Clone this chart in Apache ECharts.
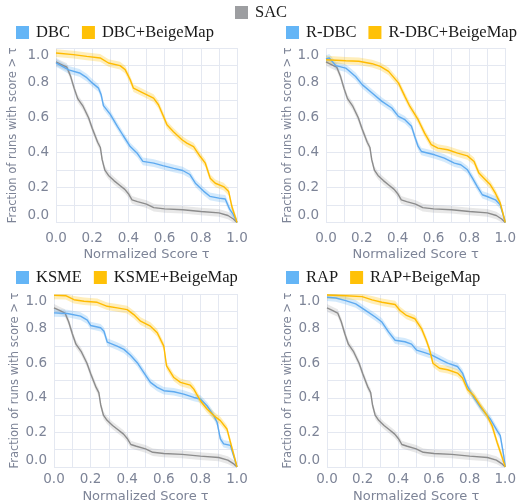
<!DOCTYPE html>
<html><head><meta charset="utf-8">
<script src="https://cdn.jsdelivr.net/npm/echarts@6/dist/echarts.min.js"></script>
<style>html,body{margin:0;padding:0;background:#fff}#c{width:519px;height:504px}</style>
</head><body><div id="c"></div>
<script>
// ---- data: [normalized score tau, fraction of runs with score > tau] ----
const sac = [[0,0.92],[0.03,0.905],[0.06,0.89],[0.08,0.84],[0.1,0.77],[0.12,0.71],[0.15,0.665],[0.18,0.6],[0.2,0.54],[0.23,0.46],[0.245,0.43],[0.255,0.36],[0.27,0.30],[0.29,0.27],[0.32,0.24],[0.35,0.215],[0.38,0.19],[0.4,0.165],[0.42,0.13],[0.45,0.12],[0.5,0.105],[0.54,0.085],[0.6,0.078],[0.7,0.073],[0.8,0.063],[0.9,0.055],[0.95,0.04],[0.98,0.02],[1.0,0]];

const dbc = [[0,0.915],[0.07,0.875],[0.13,0.857],[0.17,0.83],[0.2,0.80],[0.235,0.77],[0.25,0.73],[0.262,0.67],[0.3,0.62],[0.34,0.55],[0.37,0.5],[0.41,0.435],[0.45,0.395],[0.48,0.35],[0.54,0.34],[0.59,0.326],[0.65,0.31],[0.7,0.298],[0.74,0.275],[0.77,0.225],[0.815,0.18],[0.85,0.15],[0.9,0.14],[0.935,0.135],[0.96,0.075],[0.98,0.045],[1,0]];
const dbcBeige = [[0,0.971],[0.096,0.962],[0.17,0.952],[0.244,0.943],[0.29,0.914],[0.354,0.899],[0.382,0.876],[0.41,0.818],[0.428,0.77],[0.483,0.742],[0.539,0.713],[0.566,0.675],[0.594,0.608],[0.613,0.56],[0.649,0.52],[0.696,0.474],[0.723,0.455],[0.76,0.435],[0.797,0.378],[0.825,0.34],[0.852,0.254],[0.88,0.225],[0.926,0.206],[0.954,0.177],[0.972,0.09],[1,0]];

const rdbc = [[0,0.937],[0.018,0.943],[0.055,0.899],[0.11,0.885],[0.165,0.837],[0.202,0.79],[0.257,0.742],[0.312,0.694],[0.367,0.656],[0.404,0.608],[0.44,0.589],[0.477,0.551],[0.495,0.493],[0.514,0.436],[0.532,0.407],[0.606,0.388],[0.66,0.369],[0.716,0.34],[0.752,0.331],[0.789,0.302],[0.817,0.254],[0.844,0.206],[0.872,0.159],[0.899,0.149],[0.945,0.13],[0.972,0.101],[1,0]];
const rdbcBeige = [[0,0.933],[0.11,0.927],[0.183,0.924],[0.257,0.91],[0.303,0.895],[0.349,0.866],[0.404,0.8],[0.44,0.723],[0.468,0.665],[0.514,0.589],[0.55,0.512],[0.587,0.446],[0.624,0.426],[0.679,0.417],[0.734,0.398],[0.789,0.382],[0.826,0.35],[0.853,0.283],[0.881,0.254],[0.917,0.216],[0.945,0.168],[0.972,0.111],[1,0]];

const ksme = [[0,0.891],[0.073,0.887],[0.145,0.872],[0.182,0.849],[0.2,0.818],[0.255,0.805],[0.273,0.785],[0.291,0.722],[0.345,0.699],[0.382,0.68],[0.418,0.646],[0.455,0.603],[0.491,0.546],[0.527,0.489],[0.564,0.46],[0.6,0.441],[0.655,0.435],[0.709,0.421],[0.764,0.402],[0.8,0.393],[0.836,0.354],[0.873,0.297],[0.891,0.259],[0.909,0.163],[0.927,0.134],[0.964,0.125],[1,0]];
const ksmeBeige = [[0,0.992],[0.064,0.99],[0.109,0.967],[0.164,0.958],[0.236,0.952],[0.291,0.929],[0.345,0.92],[0.4,0.91],[0.436,0.881],[0.473,0.843],[0.527,0.814],[0.564,0.776],[0.6,0.699],[0.615,0.584],[0.655,0.517],[0.691,0.489],[0.745,0.473],[0.764,0.45],[0.8,0.383],[0.836,0.335],[0.873,0.297],[0.909,0.268],[0.945,0.22],[0.964,0.144],[1,0]];

const rap = [[0,0.981],[0.05,0.977],[0.105,0.962],[0.161,0.943],[0.216,0.905],[0.271,0.867],[0.308,0.838],[0.345,0.781],[0.382,0.733],[0.437,0.724],[0.474,0.71],[0.502,0.676],[0.548,0.661],[0.585,0.648],[0.64,0.619],[0.677,0.6],[0.732,0.581],[0.76,0.543],[0.788,0.467],[0.825,0.4],[0.862,0.343],[0.917,0.276],[0.954,0.21],[0.972,0.181],[0.991,0.067],[1,0]];
const rapBeige = [[0,0.994],[0.105,0.99],[0.197,0.985],[0.253,0.966],[0.308,0.952],[0.382,0.939],[0.41,0.905],[0.446,0.876],[0.493,0.857],[0.53,0.8],[0.557,0.733],[0.576,0.676],[0.594,0.6],[0.631,0.571],[0.677,0.562],[0.732,0.543],[0.76,0.514],[0.788,0.448],[0.825,0.41],[0.862,0.352],[0.899,0.295],[0.926,0.238],[0.954,0.143],[0.982,0.057],[1,0]];

const methods = ['DBC','R-DBC','KSME','RAP'];
const baselineName = 'SAC';
const suffix = '+BeigeMap';
const methodData = [dbc, rdbc, ksme, rap];
const beigeData = [dbcBeige, rdbcBeige, ksmeBeige, rapBeige];
const xTitle = 'Normalized Score τ';
const yTitle = 'Fraction of runs with score > τ';
const bandHalfWidth = 0.022;

// ---- layout / style ----
const layout = [
  {grid:{left:56, top:48, width:181, height:174.5}, legend:{left:16, top:24}, xLabelMargin:9, xNameGap:26, yNameGap:37},
  {grid:{left:326, top:48, width:181, height:174.5}, legend:{left:286, top:24}, xLabelMargin:9, xNameGap:26, yNameGap:31},
  {grid:{left:54, top:294, width:183, height:174}, legend:{left:16, top:269}, xLabelMargin:5, xNameGap:23, yNameGap:33},
  {grid:{left:327, top:294, width:180.5, height:174}, legend:{left:286, top:269}, xLabelMargin:5, xNameGap:23, yNameGap:33}
];
const C = {
  gray:{line:'#8c8c8c', icon:'#9d9ea1', band:'rgba(150,150,150,0.22)'},
  blue:{line:'#5eaaf0', icon:'#64b5f6', band:'rgba(100,181,246,0.28)'},
  amber:{line:'#ffbb00', icon:'#ffc107', band:'rgba(255,193,7,0.28)'}
};
const tickColor = '#7d8497';
const gridColor = '#e4e8f1';
const legendText = {fontFamily:'Liberation Serif', fontSize:16.5, color:'#1a1a1a', padding:[0,0,0,2]};

function bandSeries(data, fill, i) {
  return {
    type:'custom', xAxisIndex:i, yAxisIndex:i, silent:true, z:1,
    data:[[0,0]],
    renderItem:function(params, api){
      const up = data.map(p => api.coord([p[0], Math.min(1, p[1] + bandHalfWidth)]));
      const lo = data.map(p => api.coord([p[0], Math.max(0, p[1] - bandHalfWidth)])).reverse();
      return {type:'polygon', shape:{points:up.concat(lo)}, style:{fill:fill}};
    }
  };
}
function lineSeries(name, data, c, i, z) {
  return {
    type:'line', name:name, xAxisIndex:i, yAxisIndex:i, data:data, showSymbol:false, silent:true, z:z,
    lineStyle:{color:c.line, width:1.4}, itemStyle:{color:c.icon}
  };
}

const grids = [], xAxes = [], yAxes = [], series = [], legends = [];
layout.forEach((L, i) => {
  grids.push(Object.assign({containLabel:false}, L.grid));
  xAxes.push({
    type:'value', gridIndex:i, min:0, max:1, interval:0.2,
    name:xTitle, nameLocation:'middle', nameGap:L.xNameGap,
    nameTextStyle:{fontFamily:'DejaVu Sans', fontSize:13, color:tickColor},
    axisLine:{show:false}, axisTick:{show:false},
    axisLabel:{fontFamily:'DejaVu Sans', fontSize:13.5, color:tickColor, margin:L.xLabelMargin, formatter:v => v.toFixed(1)},
    splitLine:{show:true, lineStyle:{color:gridColor, width:1}},
    minorTick:{show:false, splitNumber:2},
    minorSplitLine:{show:true, lineStyle:{color:gridColor, width:1}}
  });
  yAxes.push({
    type:'value', gridIndex:i, min:0, max:1, interval:0.2,
    name:yTitle, nameLocation:'middle', nameGap:L.yNameGap,
    nameTextStyle:{fontFamily:'DejaVu Sans', fontSize:11.5, color:tickColor},
    axisLine:{show:false}, axisTick:{show:false},
    axisLabel:{fontFamily:'DejaVu Sans', fontSize:13.5, color:tickColor, margin:7, formatter:v => v.toFixed(1),
      verticalAlignMinLabel:'bottom', verticalAlignMaxLabel:'top'},
    splitLine:{show:true, lineStyle:{color:gridColor, width:1}},
    minorTick:{show:false, splitNumber:2},
    minorSplitLine:{show:true, lineStyle:{color:gridColor, width:1}}
  });
  series.push(bandSeries(sac, C.gray.band, i));
  series.push(bandSeries(methodData[i], C.blue.band, i));
  series.push(bandSeries(beigeData[i], C.amber.band, i));
  series.push(lineSeries(baselineName, sac, C.gray, i, 3));
  series.push(lineSeries(methods[i], methodData[i], C.blue, i, 4));
  series.push(lineSeries(methods[i] + suffix, beigeData[i], C.amber, i, 5));
  legends.push({
    data:[methods[i], methods[i] + suffix], left:L.legend.left, top:L.legend.top,
    orient:'horizontal', icon:'rect', itemWidth:13, itemHeight:13, itemGap:12, padding:0,
    selectedMode:false, textStyle:legendText
  });
});
legends.push({
  data:[baselineName], left:235, top:4, icon:'rect', itemWidth:13, itemHeight:13, padding:0,
  selectedMode:false, textStyle:legendText
});

const chart = echarts.init(document.getElementById('c'), null, {renderer:'canvas'});
chart.setOption({
  animation:false, backgroundColor:'#ffffff',
  grid:grids, xAxis:xAxes, yAxis:yAxes, series:series, legend:legends
});
</script></body></html>
